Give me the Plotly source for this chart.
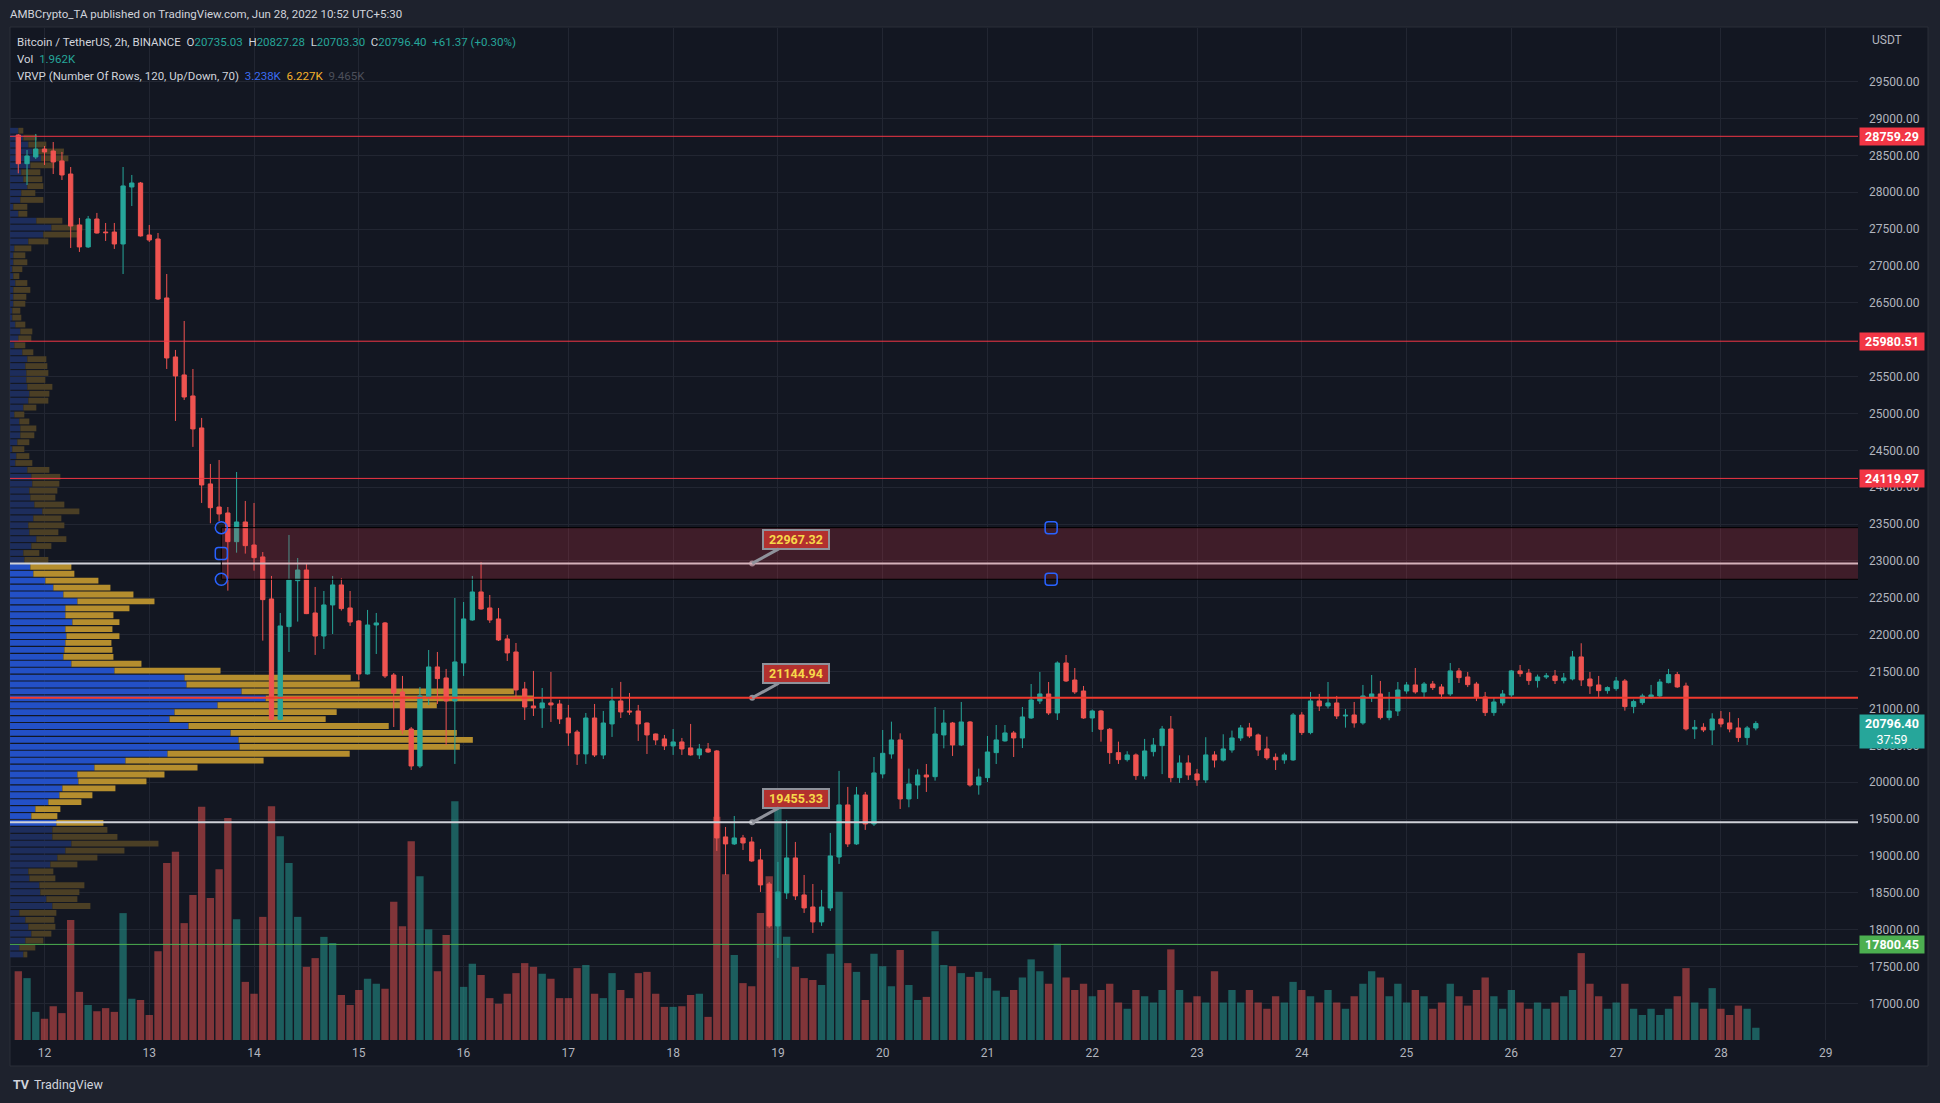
import numpy as np
import pandas as pd
import plotly.graph_objects as go

# ---------------- data ----------------
first_bar = "2022-06-11 18:00"   # first visible 2h candle (chart time, UTC+5:30)
bar_hours = 2

opens = [28777, 28388, 28479, 28587, 28560, 28425, 28248, 27557, 27259, 27638,
         27461, 27461, 27299, 28072, 28126, 27421, 27367, 26567, 25767, 25523,
         25238, 24804, 24045, 23732, 23651, 23262, 23529, 23217, 23055, 22485,
         20853, 22110, 22733, 22878, 22295, 21983, 22404, 22675, 22363, 22187,
         21468, 22132, 22160, 21454, 21224, 20722, 20220, 21160, 21563, 21414,
         21102, 21617, 22200, 22580, 22363, 22214, 21943, 21766, 21265, 21034,
         21007, 21075, 21061, 20871, 20681, 20383, 20871, 20369, 20790, 21102,
         20966, 20966, 20803, 20654, 20587, 20492, 20546, 20465, 20370, 20451,
         20424, 19258, 19163, 19244, 19190, 18946, 18620, 18051, 18498, 18973,
         18471, 18308, 18105, 18295, 18986, 19692, 19163, 19827, 19434, 20112,
         20383, 20573, 19773, 19962, 20098, 20075, 20641, 20803, 20505, 20817,
         19962, 20062, 20401, 20560, 20668, 20600, 20871, 21102, 21197, 20939,
         21617, 21386, 21237, 20871, 20966, 20718, 20401, 20306, 20370, 20085,
         20415, 20496, 20722, 20062, 20261, 20112, 20031, 20370, 20300, 20437,
         20600, 20736, 20641, 20451, 20338, 20302, 20302, 20912, 20673, 21102,
         21034, 21075, 20898, 20912, 20804, 21156, 21197, 20876, 20966, 21237,
         21319, 21224, 21332, 21292, 21197, 21509, 21427, 21332, 21156, 20944,
         21075, 21183, 21509, 21481, 21378, 21427, 21441, 21378, 21400, 21699,
         21400, 21319, 21242, 21269, 21373, 21025, 21079, 21156, 21170, 21350,
         21459, 21305, 20722, 20745, 20709, 20858, 20804, 20736, 20605, 20735.03]
highs = [28790, 28574, 28791, 28628, 28682, 28547, 28343, 27652, 27679, 27720,
         27584, 27584, 28343, 28235, 28140, 27557, 27448, 26892, 25862, 26255,
         25604, 24940, 24316, 24370, 23732, 24207, 23814, 23787, 23122, 22797,
         22295, 23353, 23041, 22960, 22648, 22593, 22797, 22770, 22593, 22200,
         22336, 22295, 22173, 21481, 21441, 20749, 21292, 21793, 21766, 21536,
         22498, 22444, 22797, 22987, 22539, 22363, 21997, 21888, 21360, 21509,
         21278, 21495, 21116, 21048, 20709, 20939, 21061, 20966, 21278, 21360,
         21210, 21048, 20810, 20660, 20641, 20722, 20600, 20790, 20519, 20532,
         20437, 19393, 19542, 19285, 19258, 19095, 18647, 18919, 19488, 19190,
         18742, 18620, 18539, 19312, 20153, 19936, 19936, 19868, 20342, 20708,
         20821, 20663, 20184, 20175, 20247, 21020, 20980, 20817, 21088, 20830,
         20184, 20627, 20776, 20776, 20695, 21020, 21332, 21495, 21359, 21639,
         21725, 21549, 21305, 20985, 20980, 20735, 20550, 20420, 20390, 20587,
         20600, 20763, 20898, 20365, 20365, 20180, 20610, 20420, 20650, 20700,
         20776, 20804, 20660, 20618, 20390, 20400, 20939, 20950, 21224, 21197,
         21359, 21170, 20993, 21088, 21319, 21454, 21373, 21224, 21359, 21359,
         21549, 21359, 21373, 21330, 21617, 21549, 21495, 21360, 21224, 21150,
         21250, 21522, 21590, 21536, 21459, 21480, 21522, 21481, 21780, 21884,
         21495, 21441, 21300, 21427, 21400, 21120, 21200, 21319, 21400, 21536,
         21495, 21350, 20844, 20800, 20935, 20966, 20950, 20870, 20763, 20827.28]
lows = [28257, 28099, 28452, 28370, 28248, 28167, 27245, 27191, 27245, 27440,
        27340, 27232, 26892, 27814, 27400, 27326, 26540, 25604, 24899, 25184,
        24547, 23787, 23511, 23540, 22598, 23113, 23100, 22869, 21920, 20840,
        20840, 21766, 22178, 22280, 21726, 21807, 22010, 22327, 22119, 21387,
        21460, 21739, 21414, 20749, 20654, 20166, 20193, 21048, 21061, 20505,
        20248, 21441, 22190, 22340, 22160, 21915, 21644, 21129, 20844, 20898,
        20736, 20817, 20790, 20492, 20234, 20248, 20342, 20315, 20614, 20871,
        20912, 20560, 20383, 20505, 20437, 20370, 20370, 20360, 20315, 20397,
        19068, 18742, 19149, 19081, 18920, 18512, 18024, 17617, 18417, 18403,
        18227, 17956, 18051, 18254, 18892, 19122, 19150, 19353, 19407, 20053,
        20319, 19637, 19660, 19773, 19868, 20021, 20460, 20356, 20490, 19940,
        19831, 20003, 20247, 20550, 20342, 20464, 20860, 21061, 20912, 20844,
        21360, 21197, 20860, 20681, 20550, 20248, 20248, 20280, 20031, 20040,
        20350, 20110, 20000, 19990, 20031, 19950, 19990, 20200, 20280, 20400,
        20560, 20600, 20356, 20300, 20166, 20250, 20290, 20640, 20650, 20966,
        21000, 20857, 20740, 20740, 20780, 21088, 20850, 20840, 20898, 21200,
        21200, 21150, 21250, 21130, 21170, 21346, 21290, 21100, 20898, 20900,
        21040, 21150, 21430, 21320, 21283, 21400, 21332, 21340, 21380, 21305,
        21197, 21156, 21200, 21240, 20970, 20935, 21050, 21130, 21150, 21340,
        21280, 20700, 20587, 20680, 20505, 20745, 20677, 20546, 20505, 20703.30]
closes = [28388, 28492, 28587, 28547, 28411, 28235, 27543, 27259, 27638, 27448,
          27452, 27299, 28086, 28126, 27408, 27353, 26553, 25753, 25509, 25224,
          24791, 24031, 23723, 23638, 23262, 23529, 23208, 23045, 22476, 20853,
          22119, 22742, 22878, 22286, 21983, 22404, 22675, 22354, 22173, 21468,
          22132, 22160, 21441, 21210, 20709, 20220, 21170, 21563, 21405, 21102,
          21631, 22214, 22580, 22349, 22200, 21929, 21753, 21251, 21020, 21007,
          21075, 21048, 20858, 20668, 20383, 20871, 20369, 20803, 21102, 20953,
          20953, 20790, 20641, 20573, 20492, 20546, 20451, 20370, 20451, 20410,
          19244, 19163, 19244, 19176, 18932, 18607, 18051, 18512, 18973, 18458,
          18295, 18105, 18308, 19000, 19692, 19163, 19827, 19434, 20126, 20392,
          20573, 19773, 19976, 20098, 20071, 20654, 20803, 20505, 20817, 19962,
          20071, 20410, 20573, 20668, 20600, 20885, 21115, 21197, 20939, 21617,
          21373, 21224, 20871, 20966, 20718, 20401, 20306, 20370, 20089, 20424,
          20505, 20722, 20062, 20261, 20098, 20031, 20370, 20300, 20451, 20600,
          20736, 20627, 20437, 20329, 20302, 20370, 20912, 20673, 21102, 21034,
          21075, 20898, 20908, 20804, 21170, 21197, 20876, 20966, 21251, 21319,
          21224, 21332, 21283, 21197, 21509, 21418, 21323, 21156, 20944, 21088,
          21197, 21509, 21472, 21378, 21427, 21441, 21378, 21414, 21699, 21387,
          21305, 21242, 21283, 21373, 21025, 21093, 21170, 21183, 21359, 21459,
          21292, 20722, 20745, 20709, 20858, 20790, 20722, 20605, 20736, 20796.40]
volumes_k = [11.0, 9.9, 4.5, 3.4, 5.4, 4.3, 19.2, 7.7, 5.6, 4.6,
             5.1, 4.5, 20.3, 6.6, 6.4, 4.0, 14.2, 28.3, 30.1, 18.7,
             23.2, 37.3, 22.7, 27.3, 35.5, 19.3, 9.3, 7.4, 19.7, 37.4,
             32.6, 28.3, 19.7, 11.7, 13.1, 16.5, 15.5, 7.2, 5.6, 8.0,
             9.8, 9.0, 8.2, 22.1, 18.2, 31.8, 26.2, 17.7, 11.0, 16.8,
             38.2, 8.5, 12.2, 10.4, 6.7, 5.8, 7.4, 10.7, 12.3, 11.7,
             10.6, 9.8, 6.7, 6.7, 11.5, 12.0, 7.4, 6.7, 10.7, 8.0,
             6.7, 10.7, 10.9, 7.4, 5.3, 5.3, 5.4, 7.2, 7.4, 3.7,
             35.7, 26.5, 13.6, 9.1, 8.6, 20.3, 26.2, 37.3, 16.5, 11.7,
             9.9, 9.6, 8.8, 13.8, 23.7, 12.3, 10.9, 6.4, 13.8, 11.8,
             8.6, 14.4, 8.8, 6.4, 6.9, 17.4, 12.0, 11.8, 10.7, 10.1,
             10.9, 9.9, 7.9, 6.9, 8.0, 10.0, 12.9, 11.0, 9.0, 15.4,
             10.0, 8.0, 9.0, 7.0, 8.0, 9.0, 6.0, 5.0, 8.0, 7.0,
             6.0, 8.0, 14.5, 8.0, 6.0, 7.0, 6.0, 11.0, 6.0, 8.0,
             6.0, 8.0, 6.0, 5.0, 7.0, 6.0, 9.3, 8.0, 7.0, 6.0,
             8.0, 6.0, 5.0, 7.0, 9.0, 11.0, 10.0, 7.0, 9.0, 6.0,
             8.0, 7.0, 5.0, 6.0, 9.0, 7.0, 5.5, 8.0, 10.0, 7.0,
             5.0, 8.0, 6.0, 5.0, 6.0, 5.0, 6.0, 7.0, 8.0, 13.9,
             9.0, 7.0, 5.0, 6.0, 9.0, 5.0, 4.0, 5.0, 4.0, 5.0,
             7.0, 11.5, 6.0, 5.0, 8.3, 5.0, 4.0, 5.5, 5.0, 1.962]

# Visible-range volume profile, 120 rows from top (high) to bottom (low)
vp_price_high = 28882
vp_price_low = 17617
vp_up = [8.3, 13.3, 18.3, 22.6, 31.0, 20.3, 11.3, 13.3, 17.3, 11.3,
         10.3, 3.3, 8.3, 26.3, 41.3, 33.3, 18.3, 4.3, 3.3, 3.3,
         2.3, 3.3, 5.3, 3.3, 3.3, 3.3, 2.3, 2.3, 5.3, 10.3,
         8.3, 4.3, 12.3, 17.3, 15.3, 16.3, 16.3, 17.3, 19.3, 18.3,
         13.3, 4.3, 9.3, 10.3, 10.3, 7.3, 2.3, 6.3, 5.3, 17.3,
         21.3, 22.3, 19.3, 20.3, 24.3, 32.3, 23.3, 18.3, 19.3, 26.3,
         21.3, 13.3, 14.3, 20.3, 23.3, 35.3, 43.3, 53.3, 67.3, 55.3,
         55.3, 62.3, 55.3, 56.3, 55.3, 54.3, 53.3, 61.3, 104.3, 174.3,
         176.3, 231.3, 255.3, 207.3, 164.3, 159.3, 178.3, 220.3, 228.3, 229.3,
         157.3, 115.3, 84.3, 67.3, 68.3, 52.3, 49.3, 38.3, 25.3, 21.3,
         46.3, 42.3, 42.3, 61.3, 55.3, 47.3, 40.3, 18.3, 19.3, 29.3,
         30.3, 36.3, 42.3, 9.3, 15.3, 18.3, 21.3, 15.3, 9.3, 13.3]
vp_down = [5.0, 13.7, 18.0, 31.3, 27.3, 24.0, 19.0, 19.0, 16.0, 14.0,
           23.0, 14.0, 9.0, 26.0, 31.3, 36.0, 20.0, 17.0, 12.0, 14.0,
           10.0, 6.0, 12.0, 17.0, 13.0, 12.0, 8.0, 9.0, 10.0, 12.0,
           13.0, 11.0, 11.0, 19.0, 22.0, 22.0, 19.0, 25.0, 20.0, 20.0,
           13.0, 10.0, 10.0, 16.0, 14.0, 12.0, 12.0, 13.0, 17.0, 22.0,
           29.0, 27.0, 28.0, 25.0, 30.0, 37.0, 28.0, 36.0, 29.0, 30.0,
           20.0, 16.0, 24.0, 41.0, 41.0, 53.0, 57.0, 70.0, 77.0, 64.0,
           48.0, 47.0, 47.0, 53.0, 46.0, 48.0, 50.0, 70.0, 106.0, 166.0,
           173.0, 272.0, 268.0, 219.0, 162.0, 156.0, 200.0, 226.0, 234.0, 220.0,
           182.0, 138.0, 103.0, 87.0, 68.0, 53.0, 33.0, 33.0, 25.0, 26.0,
           47.0, 55.0, 65.0, 87.0, 59.0, 40.0, 27.0, 25.0, 26.0, 45.0,
           39.0, 31.0, 38.0, 37.0, 29.0, 27.0, 20.0, 18.0, 16.0, 4.0]
value_area_high = 22967.32
value_area_low = 19455.33

red_levels = [28759.29, 25980.51, 24119.97]
poc_level = 21144.94
white_levels = [22967.32, 19455.33]
green_level = 17800.45
zone_low, zone_high = 22752, 23452
zone_start, zone_end = "2022-06-13 16:30", "2022-06-29 12:40"
callout_prices = [22967.32, 21144.94, 19455.33]
callout_time = "2022-06-18 18:06"

last_open, last_high, last_low, last_close = 20735.03, 20827.28, 20703.30, 20796.40
last_change, last_change_pct = 61.37, 0.30
countdown = "37:59"
legend_vp = ["3.238K", "6.227K", "9.465K"]
# 26000.00 is hidden behind the 25980.51 level label in the original
price_ticks = [p for p in range(17000, 30000, 500) if p != 26000]
day_ticks = pd.date_range("2022-06-12", "2022-06-29", freq="D")

# ---------------- layout helpers ----------------
W, H = 1940, 1103
ML, MR, MT, MB = 10, 82, 28, 63
PW, PH = W - ML - MR, H - MT - MB
FONT = "Roboto, Liberation Sans, sans-serif"
BG_OUT, BG_PANE = "#1e222d", "#131722"
UP, DOWN = "#26a69a", "#ef5350"
TXT = "#d1d4dc"
AX = "#b2b5be"


def xp(px):
    return (px - ML) / PW


def yp(py):
    return (H - MB - py) / PH


def span(s, color):
    return f"<span style='color:{color}'>{s}</span>"


times = pd.date_range(first_bar, periods=len(opens), freq=f"{bar_hours}h")
x_range = [pd.Timestamp("2022-06-11 16:06"), pd.Timestamp("2022-06-29 07:24")]
y_range = [16504, 30228]
vol_axis_top = 161.9
vp_width_frac = 0.2835

fig = go.Figure()

# ---- volume profile (horizontal bars from the left edge) ----
n_rows = len(vp_up)
row_h = (vp_price_high - vp_price_low) / n_rows
row_centers = vp_price_high - row_h * (np.arange(n_rows) + 0.5)
in_va = (row_centers <= value_area_high) & (row_centers >= value_area_low - row_h / 2)
span_ms = (x_range[1] - x_range[0]) / pd.Timedelta(milliseconds=1)
up_arr, dn_arr = np.array(vp_up), np.array(vp_down)
ms_per_unit = span_ms * vp_width_frac / (up_arr + dn_arr).max()
up_ms = up_arr * ms_per_unit
dn_ms = dn_arr * ms_per_unit
base_up = [x_range[0].strftime("%Y-%m-%d %H:%M:%S")] * n_rows
base_dn = [(x_range[0] + pd.Timedelta(milliseconds=float(u))).strftime("%Y-%m-%d %H:%M:%S.%f")
           for u in up_ms]
fig.add_trace(go.Bar(
    y=row_centers, x=up_ms, base=base_up, orientation="h", width=row_h * 0.84,
    marker=dict(color=["#2350c6" if v else "#1d2d5c" for v in in_va], line=dict(width=0)),
    hoverinfo="skip", showlegend=False))
fig.add_trace(go.Bar(
    y=row_centers, x=dn_ms, base=base_dn, orientation="h", width=row_h * 0.84,
    marker=dict(color=["#b58e2e" if v else "#4b3f25" for v in in_va], line=dict(width=0)),
    hoverinfo="skip", showlegend=False))

# ---- candles ----
fig.add_trace(go.Candlestick(
    x=times, open=opens, high=highs, low=lows, close=closes,
    increasing=dict(line=dict(color=UP, width=1), fillcolor=UP),
    decreasing=dict(line=dict(color=DOWN, width=1), fillcolor=DOWN),
    whiskerwidth=0, hoverinfo="skip", showlegend=False))

# callout anchor dots
fig.add_trace(go.Scatter(
    x=[callout_time] * len(callout_prices), y=callout_prices, mode="markers",
    marker=dict(color="#8f929b", size=6), hoverinfo="skip", showlegend=False))

# ---- volume (overlay axis) ----
vol_colors = ["rgba(38,166,154,0.5)" if c >= o else "rgba(239,83,80,0.5)"
              for o, c in zip(opens, closes)]
fig.add_trace(go.Bar(
    x=times, y=volumes_k, yaxis="y2", marker=dict(color=vol_colors, line=dict(width=0)),
    width=bar_hours * 3600 * 1000 * 0.84, hoverinfo="skip", showlegend=False))

# ---------------- shapes ----------------
shapes = []
shapes.append(dict(type="rect", xref="paper", yref="paper", x0=xp(10), x1=xp(1928),
                   y0=yp(1066), y1=yp(27), fillcolor=BG_PANE,
                   line=dict(color="#2a2e39", width=1), layer="below"))
for lv in red_levels:
    shapes.append(dict(type="line", xref="paper", yref="y", x0=0, x1=1, y0=lv, y1=lv,
                       line=dict(color="#f23645", width=1)))
shapes.append(dict(type="line", xref="paper", yref="y", x0=0, x1=1, y0=poc_level, y1=poc_level,
                   line=dict(color="#f23a2e", width=2)))
for lv in white_levels:
    shapes.append(dict(type="line", xref="paper", yref="y", x0=0, x1=1, y0=lv, y1=lv,
                       line=dict(color="#cfd1d8", width=2)))
shapes.append(dict(type="line", xref="paper", yref="y", x0=0, x1=1, y0=green_level, y1=green_level,
                   line=dict(color="#4caf50", width=1)))
shapes.append(dict(type="rect", xref="x", yref="y", x0=zone_start, x1=zone_end,
                   y0=zone_low, y1=zone_high, fillcolor="rgba(242,54,69,0.2)",
                   line=dict(color="#000000", width=1)))
zone_mid_t = pd.Timestamp(zone_start) + (pd.Timestamp(zone_end) - pd.Timestamp(zone_start)) / 2
zone_mid_p = (zone_low + zone_high) / 2
sq = "M-6,-3 Q-6,-6 -3,-6 L3,-6 Q6,-6 6,-3 L6,3 Q6,6 3,6 L-3,6 Q-6,6 -6,3 Z"
for (hx, hy, kind) in [(zone_start, zone_high, "c"), (zone_start, zone_low, "c"),
                       (zone_start, zone_mid_p, "s"), (zone_mid_t, zone_high, "s"),
                       (zone_mid_t, zone_low, "s")]:
    if kind == "c":
        shapes.append(dict(type="circle", xref="x", yref="y", xsizemode="pixel", ysizemode="pixel",
                           xanchor=hx, yanchor=hy, x0=-6, x1=6, y0=-6, y1=6,
                           line=dict(color="#2962ff", width=1.5)))
    else:
        shapes.append(dict(type="path", xref="x", yref="y", xsizemode="pixel", ysizemode="pixel",
                           xanchor=hx, yanchor=hy, path=sq,
                           line=dict(color="#2962ff", width=1.5)))

# ---------------- annotations ----------------
ann = []


def text(px, py, s, color=TXT, size=11.5, anchor="left"):
    ann.append(dict(xref="paper", yref="paper", x=xp(px), y=yp(py), text=s, showarrow=False,
                    xanchor=anchor, yanchor="middle", font=dict(family=FONT, size=size, color=color)))


sp = "&nbsp;&nbsp;"
text(8, 14, "AMBCrypto_TA published on TradingView.com, Jun 28, 2022 10:52 UTC+5:30", TXT, 11.5)
line1 = ("Bitcoin / TetherUS, 2h, BINANCE" + sp
         + "O" + span(f"{last_open:.2f}", UP) + sp
         + "H" + span(f"{last_high:.2f}", UP) + sp
         + "L" + span(f"{last_low:.2f}", UP) + sp
         + "C" + span(f"{last_close:.2f}", UP) + sp
         + span(f"+{last_change:.2f} (+{last_change_pct:.2f}%)", UP))
text(15, 42, line1, TXT, 11.5)
text(15, 59, "Vol" + sp + span(f"{volumes_k[-1]:.3f}K", UP), TXT, 11.5)
line3 = ("VRVP (Number Of Rows, 120, Up/Down, 70)" + sp
         + span(legend_vp[0], "#3b6cf0") + sp
         + span(legend_vp[1], "#f6b22b") + sp
         + span(legend_vp[2], "#4c4f5a"))
text(15, 76, line3, TXT, 11.5)
text(1870, 40, "USDT", AX, 12)
text(11, 1084, "<b>TV</b>", TXT, 12.5)
text(32, 1084, "TradingView", TXT, 12.5)

for lv, col in [(red_levels[0], "#f23645"), (red_levels[1], "#f23645"),
                (red_levels[2], "#f23645"), (green_level, "#4caf50")]:
    ann.append(dict(xref="paper", yref="y", x=xp(1859), y=lv, text=f"<b>{lv:.2f}</b>",
                    showarrow=False, xanchor="left", yanchor="middle", bgcolor=col,
                    width=62, borderpad=1, font=dict(family=FONT, size=12.5, color="#ffffff")))
ann.append(dict(xref="paper", yref="y", x=xp(1859), y=last_close, yshift=9,
                text=f"<b>{last_close:.2f}</b><br>{countdown}", showarrow=False,
                xanchor="left", yanchor="top", bgcolor=UP, width=62, borderpad=1,
                font=dict(family=FONT, size=12.5, color="#ffffff")))

for p in callout_prices:
    ann.append(dict(xref="x", yref="y", x=callout_time, y=p, text=f"<b>{p:.2f}</b>",
                    showarrow=True, arrowhead=0, arrowwidth=3, arrowcolor="#8f929b",
                    ax=44, ay=-24, standoff=0, bgcolor="#b2302e", bordercolor="#8f929b",
                    borderwidth=2, borderpad=1, width=62,
                    font=dict(family=FONT, size=12.5, color="#f7d84a")))

fig.update_layout(
    width=W, height=H, margin=dict(l=ML, r=MR, t=MT, b=MB),
    paper_bgcolor=BG_OUT, plot_bgcolor=BG_PANE,
    barmode="overlay", hovermode=False, showlegend=False,
    shapes=shapes, annotations=ann,
    xaxis=dict(type="date", range=x_range, rangeslider=dict(visible=False),
               tickvals=day_ticks, ticktext=[str(d.day) for d in day_ticks],
               showgrid=True, gridcolor="#222632", gridwidth=1, zeroline=False,
               showline=False, ticks="", tickfont=dict(family=FONT, size=12, color=AX),
               ticklabelstandoff=4),
    yaxis=dict(side="right", range=y_range, tickvals=price_ticks, tickformat=".2f",
               showgrid=True, gridcolor="#222632", gridwidth=1, zeroline=False,
               showline=False, ticks="", tickfont=dict(family=FONT, size=12, color=AX),
               ticklabelstandoff=10),
    yaxis2=dict(overlaying="y", range=[0, vol_axis_top], visible=False, showgrid=False),
)

fig.write_html("out.html")
